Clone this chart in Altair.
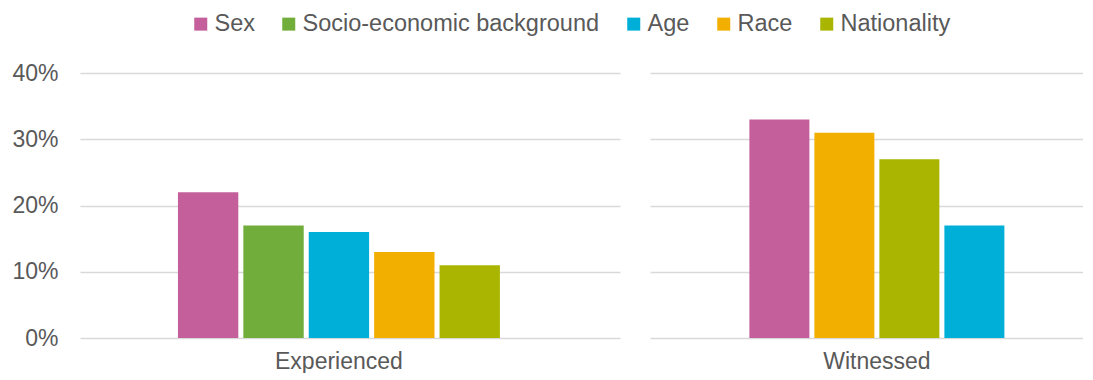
import altair as alt
import pandas as pd

categories = ["Sex", "Socio-economic background", "Age", "Race", "Nationality"]
colors = ["#C55F9B", "#70AD3A", "#00AFD8", "#F2AF00", "#A9B500"]

exp_categories = ["Sex", "Socio-economic background", "Age", "Race", "Nationality"]
exp_values = [0.22, 0.17, 0.16, 0.13, 0.11]

wit_categories = ["Sex", "Race", "Nationality", "Age"]
wit_values = [0.33, 0.31, 0.27, 0.17]

FONT = "Liberation Sans"
GRAY = "#595959"
GRID = "#D9D9D9"


def panel(group, cats, vals, width, pad_outer, align, show_labels):
    df = pd.DataFrame({"Group": [group] * len(cats), "Category": cats, "Value": vals})
    return alt.Chart(df).mark_bar().encode(
        x=alt.X(
            "Group:N",
            title=None,
            scale=alt.Scale(paddingInner=0, paddingOuter=pad_outer, align=align),
            axis=alt.Axis(labelAngle=0, domain=False, ticks=False, labelPadding=12,
                          labelFontSize=23, labelColor=GRAY, labelFont=FONT),
        ),
        xOffset=alt.XOffset("Category:N", sort=cats,
                            scale=alt.Scale(paddingInner=0.077, paddingOuter=0.0385)),
        y=alt.Y(
            "Value:Q",
            title=None,
            scale=alt.Scale(domain=[0, 0.4]),
            axis=alt.Axis(values=[0, 0.1, 0.2, 0.3, 0.4], format=".0%", labels=show_labels,
                          domain=False, ticks=False, labelPadding=22, labelFontSize=23,
                          labelColor=GRAY, labelFont=FONT, gridColor=GRID, gridWidth=1.3),
        ),
        color=alt.Color(
            "Category:N",
            scale=alt.Scale(domain=categories, range=colors),
            legend=alt.Legend(title=None, orient="none", legendX=109, legendY=-61,
                              direction="horizontal", symbolType="square", symbolSize=169,
                              symbolStrokeWidth=0, labelFontSize=23.5, labelColor=GRAY,
                              labelFont=FONT, columnPadding=22, labelOffset=2,
                              labelLimit=0),
        ),
    ).properties(width=width, height=265)


left = panel("Experienced", exp_categories, exp_values, 540, 0.3257, 0.448, True)
right = panel("Witnessed", wit_categories, wit_values, 433, 0.3327, 0.56, False)

chart = alt.hconcat(left, right, spacing=30).resolve_scale(
    xOffset="independent", x="independent", y="shared"
).properties(
    padding={"left": 3, "top": 4, "right": 0, "bottom": 0}
).configure_view(stroke=None)

chart.save("out.html", embed_options={"renderer": "svg", "actions": False})
